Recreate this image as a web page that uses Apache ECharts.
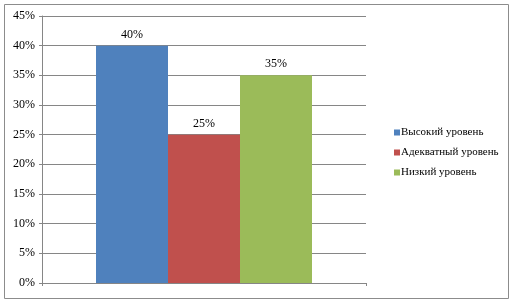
<!DOCTYPE html>
<html>
<head>
<meta charset="utf-8">
<script src="https://cdn.jsdelivr.net/npm/echarts@6/dist/echarts.min.js"></script>
<style>
html,body{margin:0;padding:0;background:#fff;}
#c{width:514px;height:303px;}
</style>
</head>
<body>
<div id="c"></div>
<script>
var categories = [''];
var seriesNames = ['Высокий уровень', 'Адекватный уровень', 'Низкий уровень'];
var seriesValues = [40, 25, 35];
var seriesColors = ['#4F81BD', '#C0504D', '#9BBB59'];
var yTicks = [0, 5, 10, 15, 20, 25, 30, 35, 40, 45];

var chart = echarts.init(document.getElementById('c'), null, {renderer: 'canvas'});
var font = '"Liberation Serif", "Times New Roman", serif';
var series = seriesNames.map(function (n, i) {
  return {
    name: n,
    type: 'bar',
    data: [seriesValues[i]],
    barWidth: 72,
    barGap: '0%',
    itemStyle: {color: seriesColors[i]},
    label: {show: true, position: 'top', distance: 5, formatter: '{c}%', fontFamily: font, fontSize: 12, color: '#000'}
  };
});
chart.setOption({
  animation: false,
  textStyle: {fontFamily: font},
  graphic: [{type: 'rect', shape: {x: 4.5, y: 4.5, width: 504, height: 294}, style: {fill: 'none', stroke: '#8c8c8c', lineWidth: 1}, silent: true}],
  grid: {left: 42, right: 148, top: 16, bottom: 20},
  legend: {
    orient: 'vertical', left: 389, top: 122, itemWidth: 6, itemHeight: 6, itemGap: 9, icon: 'rect',
    textStyle: {fontFamily: font, fontSize: 11, color: '#000', padding: [0, 0, 0, -4]},
    data: seriesNames
  },
  xAxis: {
    type: 'category', data: categories,
    axisLine: {lineStyle: {color: '#868686'}},
    axisTick: {show: true, length: 3, lineStyle: {color: '#868686'}},
    axisLabel: {show: false}
  },
  yAxis: {
    type: 'value', min: 0, max: 45, interval: 5,
    axisLine: {show: true, lineStyle: {color: '#868686'}},
    axisTick: {show: true, length: 3, lineStyle: {color: '#868686'}},
    axisLabel: {formatter: '{value}%', fontFamily: font, fontSize: 12, color: '#000', margin: 7},
    splitLine: {lineStyle: {color: '#868686'}}
  },
  series: series
});
</script>
</body>
</html>
